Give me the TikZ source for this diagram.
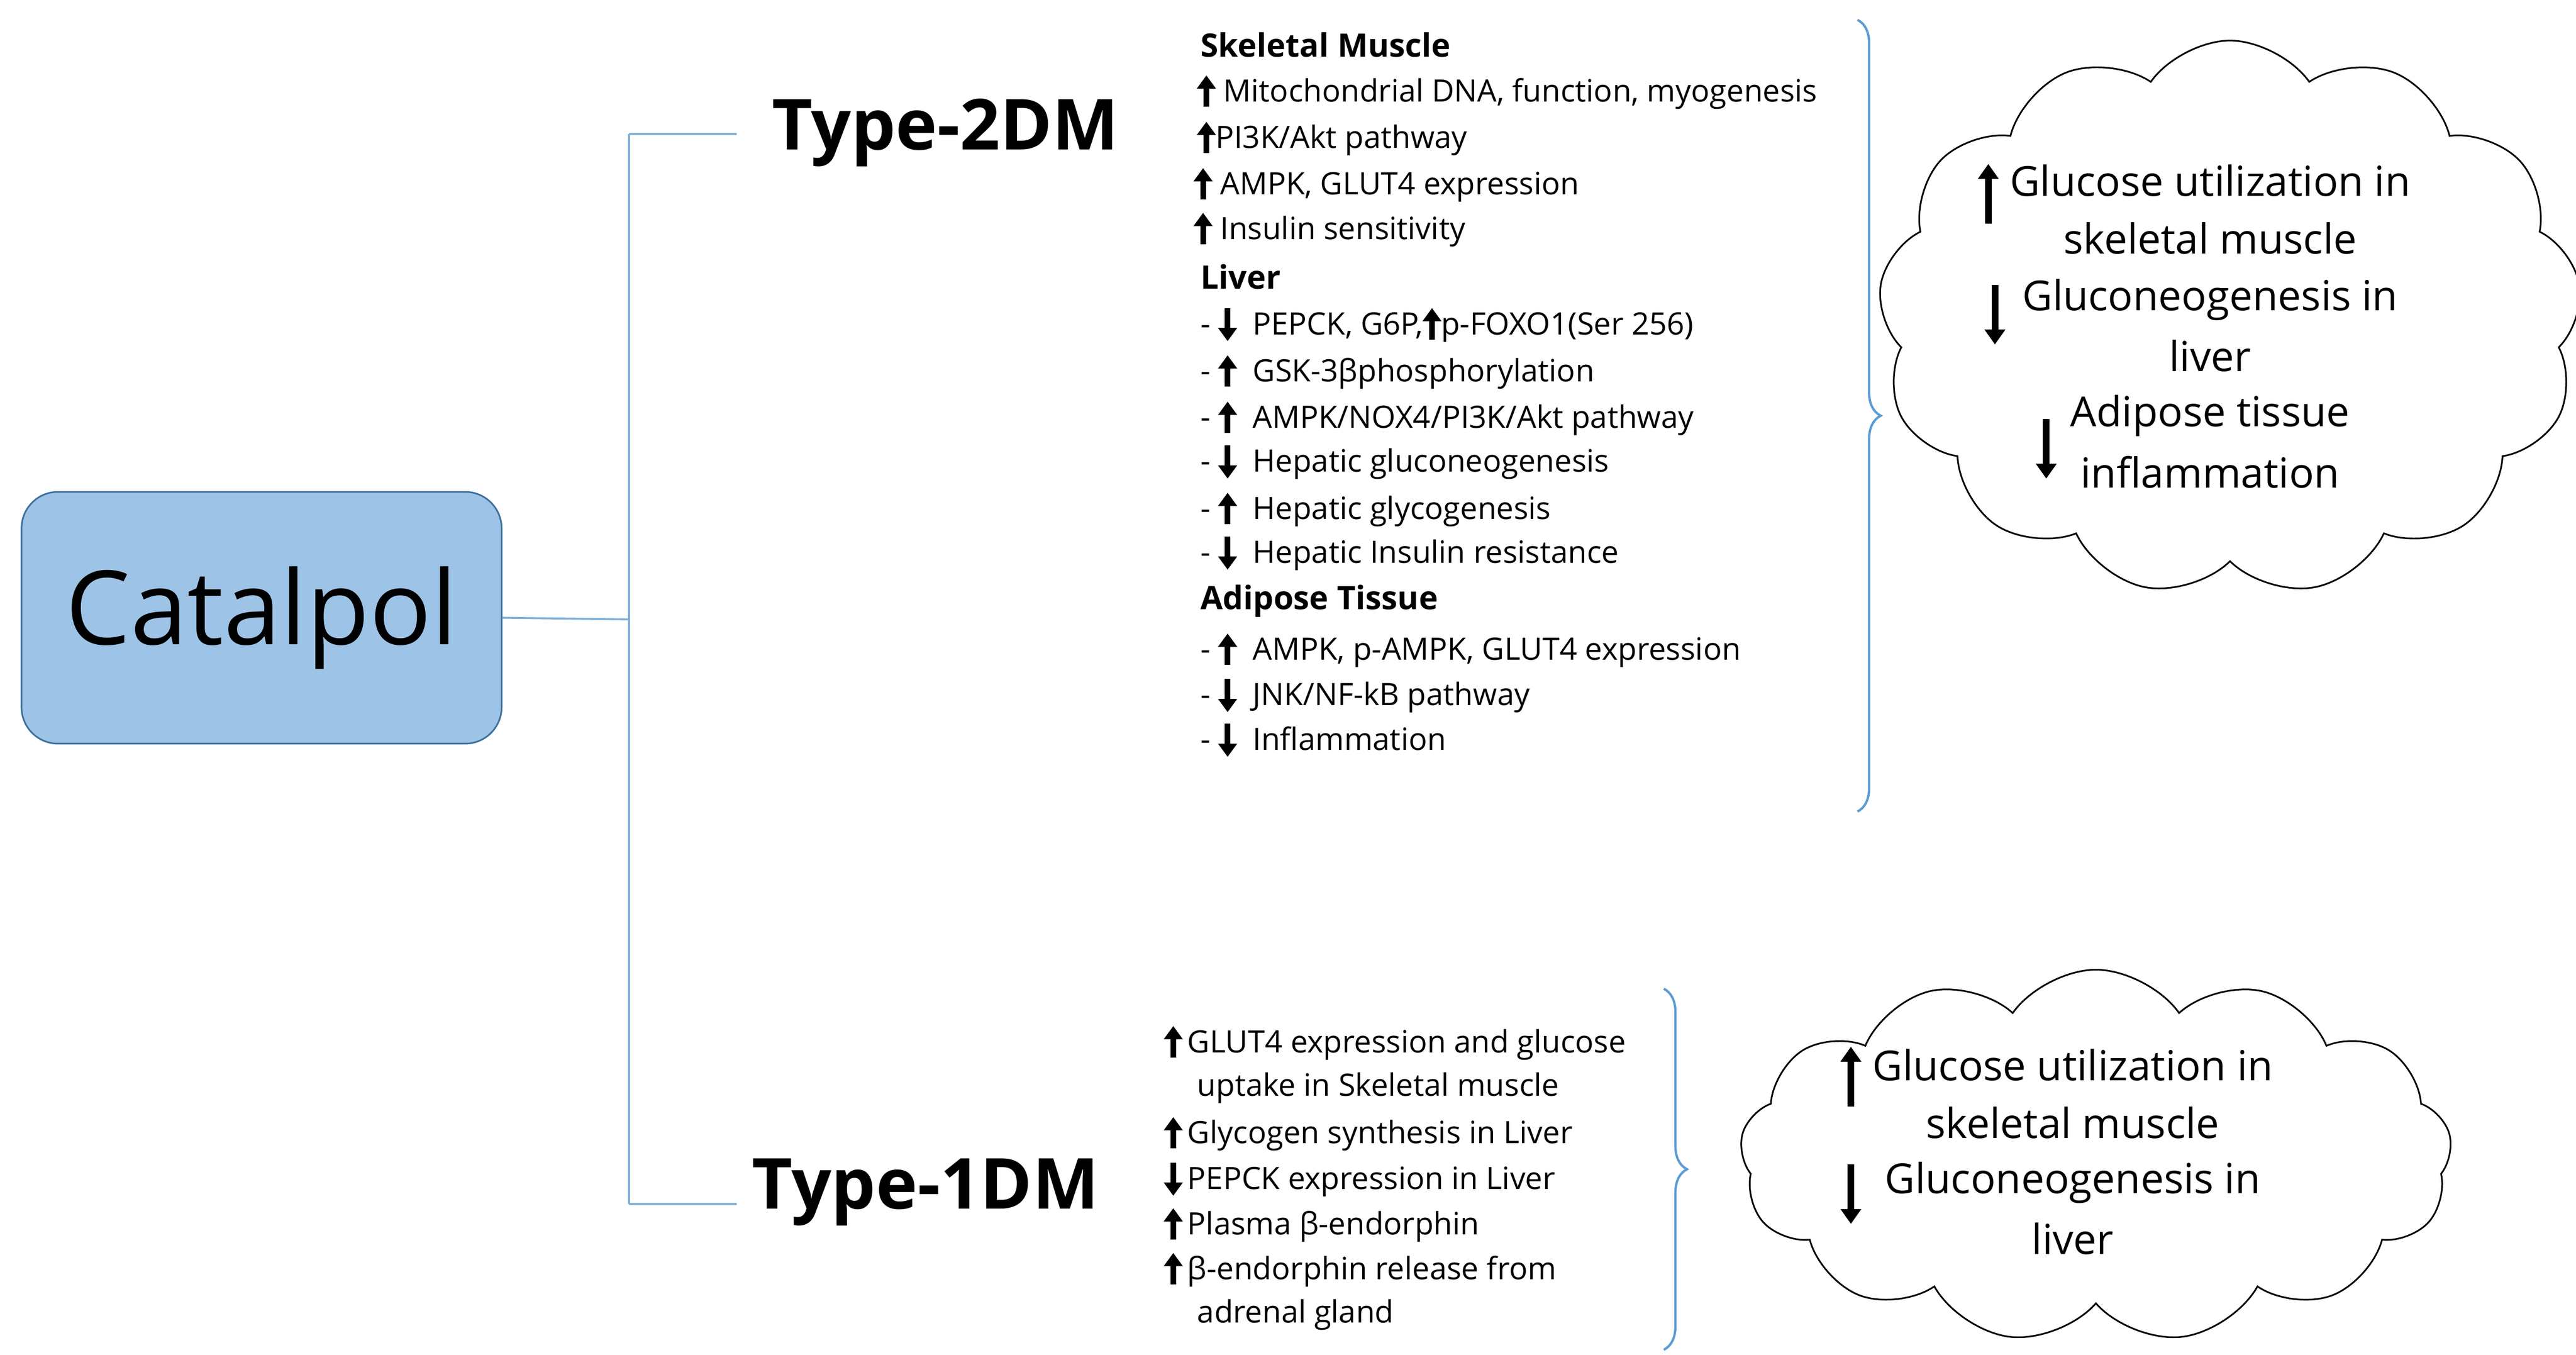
\documentclass[tikz,border=0pt]{standalone}
\usepackage{fontspec}
\setmainfont{Open Sans}
\usetikzlibrary{shapes.symbols,arrows.meta,decorations.pathreplacing}
\definecolor{boxfill}{HTML}{9DC3E6}
\definecolor{boxline}{HTML}{41719C}
\definecolor{treec}{HTML}{7FAFD6}
\definecolor{brc}{HTML}{5B9BD5}
\newcommand\upA{\tikz[baseline=0pt]\draw[-{Triangle[length=8pt,width=11pt]},line width=3.4pt](0,-3pt)--(0,16pt);}
\newcommand\dnA{\tikz[baseline=0pt]\draw[-{Triangle[length=8pt,width=11pt]},line width=3.4pt](0,16pt)--(0,-4pt);}
\newcommand\upB{\tikz[baseline=0pt]\draw[-{Triangle[length=9pt,width=12pt]},line width=4pt](0,-10pt)--(0,26pt);}
\newcommand\dnB{\tikz[baseline=0pt]\draw[-{Triangle[length=9pt,width=12pt]},line width=4pt](0,24pt)--(0,-12pt);}
\begin{document}
\begin{tikzpicture}[x=1pt,y=-1pt,
  tree/.style={draw=treec,line width=1.2pt},
  item/.style={anchor=west,inner sep=0pt,font=\fontsize{18.6}{20}\selectfont},
  head/.style={item,font=\fontsize{19.5}{20}\selectfont\bfseries},
  dm/.style={font=\fontsize{42.5}{46}\selectfont\bfseries,inner sep=0pt},
  cl/.style={draw,cloud,cloud puffs=13,cloud puff arc=110,aspect=1.3,line width=1pt},
  ct/.style={inner sep=0pt,font=\fontsize{25}{28}\selectfont},
  br/.style={draw=brc,line width=1.4pt,decorate,decoration={brace,amplitude=14pt}}]
\useasboundingbox (0,0) rectangle (1556,818);
\node[draw=boxline,fill=boxfill,rounded corners=22pt,line width=1pt,minimum width=290pt,minimum height=152pt,font=\fontsize{62}{66}\selectfont] (cat) at (158,373) {Catalpol};
\coordinate (j) at (380,374);
\coordinate (t2) at (380,81);
\coordinate (t1) at (380,727);
\coordinate (e2) at (445,81);
\coordinate (e1) at (445,727);
\draw[tree] (cat.east) -- (j);
\draw[tree] (t2) -- (t1);
\draw[tree] (t2) -- (e2);
\draw[tree] (t1) -- (e1);
\node[dm] (T2) at (571,80) {Type-2DM};
\node[dm] (T1) at (559,720) {Type-1DM};
% Type 2 list
\node[head] (h1) at (725,27) {Skeletal Muscle};
\node[item] (a1) at (723,55) {\upA\ Mitochondrial DNA, function, myogenesis};
\node[item] (a2) at (723,83) {\upA PI3K/Akt pathway};
\node[item] (a3) at (721,111) {\upA\ AMPK, GLUT4 expression};
\node[item] (a4) at (721,138) {\upA\ Insulin sensitivity};
\node[head] (h2) at (725,167) {Liver};
\node[item] (b1) at (725,196) {-\ \dnA\ \ PEPCK, G6P,\upA p-FOXO1(Ser 256)};
\node[item] (b2) at (725,224) {-\ \upA\ \ GSK-3βphosphorylation};
\node[item] (b3) at (725,252) {-\ \upA\ \ AMPK/NOX4/PI3K/Akt pathway};
\node[item] (b4) at (725,279) {-\ \dnA\ \ Hepatic gluconeogenesis};
\node[item] (b5) at (725,307) {-\ \upA\ \ Hepatic glycogenesis};
\node[item] (b6) at (725,334) {-\ \dnA\ \ Hepatic Insulin resistance};
\node[head] (h3) at (725,363) {Adipose Tissue};
\node[item] (c1) at (725,392) {-\ \upA\ \ AMPK, p-AMPK, GLUT4 expression};
\node[item] (c2) at (725,420) {-\ \dnA\ \ JNK/NF-kB pathway};
\node[item] (c3) at (725,447) {-\ \dnA\ \ Inflammation};
\draw[br] (1122,12) -- (1122,490);
% cloud 1
\node[cl,minimum width=425pt,minimum height=335pt] (cl1) at (1347,192) {};
\node[ct] (k1) at (1335,109) {Glucose utilization in};
\node[ct] (k2) at (1335,144) {skeletal muscle};
\node[ct] (k3) at (1335,181) {Gluconeogenesis in};
\node[ct] (k4) at (1335,215) {liver};
\node[ct] (k5) at (1335,251) {Adipose tissue};
\node[ct] (k6) at (1335,285) {inflammation};
\node[inner sep=0pt] at (1201,117) {\upB};
\node[inner sep=0pt] at (1205,190) {\dnB};
\node[inner sep=0pt] at (1236,271) {\dnB};
% Type 1 list
\node[item] (d1) at (703,629) {\upA\,GLUT4 expression and glucose};
\node[item] (d2) at (723,657) {uptake in Skeletal muscle};
\node[item] (d3) at (703,684) {\upA\,Glycogen synthesis in Liver};
\node[item] (d4) at (703,712) {\dnA\,PEPCK expression in Liver};
\node[item] (d5) at (703,739) {\upA\,Plasma β-endorphin};
\node[item] (d6) at (703,766) {\upA\,β-endorphin release from};
\node[item] (d7) at (723,794) {adrenal gland};
\draw[br] (1005,597) -- (1005,815);
% cloud 2
\node[cl,minimum width=430pt,minimum height=225pt] (cl2) at (1266,698) {};
\node[ct] (m1) at (1252,643) {Glucose utilization in};
\node[ct] (m2) at (1252,678) {skeletal muscle};
\node[ct] (m3) at (1252,714) {Gluconeogenesis in};
\node[ct] (m4) at (1252,748) {liver};
\node[inner sep=0pt] at (1118,650) {\upB};
\node[inner sep=0pt] at (1118,721) {\dnB};
\end{tikzpicture}
\end{document}
